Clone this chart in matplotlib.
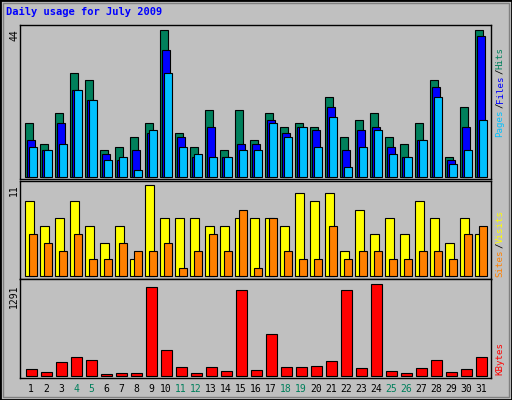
import matplotlib
matplotlib.use("Agg")
import matplotlib.pyplot as plt
from matplotlib.patches import Rectangle

days = list(range(1, 32))
weekends = [4, 5, 11, 12, 18, 19, 25, 26]
hits = [16, 10, 19, 31, 29, 8, 9, 12, 16, 44, 13, 9, 20, 8, 20, 11, 19, 15, 16, 15, 24, 12, 17, 19, 12, 10, 16, 29, 6, 21, 44]
files = [11, 8, 16, 26, 23, 7, 5, 8, 13, 38, 12, 6, 15, 6, 10, 10, 17, 13, 15, 14, 21, 8, 14, 15, 9, 6, 11, 27, 5, 15, 42]
pages = [9, 8, 10, 26, 23, 5, 6, 2, 14, 31, 9, 7, 6, 6, 8, 8, 16, 12, 15, 9, 18, 3, 9, 14, 7, 6, 11, 24, 4, 8, 17]
visits = [9, 6, 7, 9, 6, 4, 6, 2, 11, 7, 7, 7, 6, 6, 7, 7, 7, 6, 10, 9, 10, 3, 8, 5, 7, 5, 9, 7, 4, 7, 5]
sites = [5, 4, 3, 5, 2, 2, 4, 3, 3, 4, 1, 3, 5, 3, 8, 1, 7, 3, 2, 2, 6, 2, 3, 3, 2, 2, 3, 3, 2, 5, 6]
kbytes = [104, 61, 203, 273, 231, 33, 47, 47, 1249, 372, 132, 47, 132, 75, 1206, 90, 598, 132, 132, 146,
          217, 1206, 118, 1291, 75, 47, 118, 231, 61, 104, 273]

W, H = 512, 400
BG = "#c0c0c0"
GREEN, BLUE, CYAN = "#00805c", "#0000ff", "#00c0ff"
YELLOW, ORANGE, RED = "#ffff00", "#ff8000", "#ff0000"
MONO = "DejaVu Sans Mono"

fig = plt.figure(figsize=(W / 100, H / 100), dpi=100, facecolor=BG)


def px_axes(x0, y0, x1, y1):
    return fig.add_axes([x0 / W, 1 - y1 / H, (x1 - x0) / W, (y1 - y0) / H])


def style(ax, ylim):
    ax.set_facecolor(BG)
    ax.set_xlim(0.267, 31.67)
    ax.set_ylim(*ylim)
    ax.set_xticks([])
    ax.set_yticks([])
    for s in ax.spines.values():
        s.set_color("black")
        s.set_linewidth(1)


def bars(ax, vals, off, width, color):
    ax.bar([d + off for d in days], vals, width=width, align="edge",
           color=color, edgecolor="black", linewidth=0.8)


# outer frame
fig.patches.append(Rectangle((0, 0), 1, 1, transform=fig.transFigure, fill=False,
                             edgecolor="black", linewidth=2))
fig.patches.append(Rectangle((3 / W, 3 / H), 1 - 6 / W, 1 - 6 / H, transform=fig.transFigure,
                             fill=False, edgecolor="#808080", linewidth=1))

fig.text(6 / W, 1 - 15 / H, "Daily usage for July 2009", color=BLUE, fontsize=7.5,
         fontweight="bold", family=MONO)

# hits / files / pages
ax1 = px_axes(20, 25, 491, 179)
style(ax1, (-0.6, 45.4))
bars(ax1, hits, -0.4, 0.51, GREEN)
bars(ax1, files, -0.27, 0.51, BLUE)
bars(ax1, pages, -0.13, 0.51, CYAN)

# visits / sites
ax2 = px_axes(20, 181, 491, 279)
style(ax2, (-0.36, 11.43))
bars(ax2, visits, -0.4, 0.58, YELLOW)
bars(ax2, sites, -0.13, 0.51, ORANGE)

# kbytes
ax3 = px_axes(20, 279, 491, 378)
style(ax3, (-28, 1366))
bars(ax3, kbytes, -0.33, 0.71, RED)

# max labels on the left
for y, lab in [(29, "44"), (184, "11"), (284, "1291")]:
    fig.text(14 / W, 1 - y / H, lab, rotation=90, ha="center", va="top",
             fontsize=7, family=MONO)

# day labels
for d in days:
    x = 31 + 15 * (d - 1)
    fig.text(x / W, 1 - 389 / H, str(d), ha="center", va="center", fontsize=7,
             family=MONO, color=GREEN if d in weekends else "black")


def side_label(parts, y_bottom):
    # pieces of one vertical label, stacked bottom to top
    y = y_bottom
    for txt, col in parts:
        fig.text(500 / W, 1 - y / H, txt, rotation=90, ha="center", va="bottom",
                 fontsize=6.6, family=MONO, color=col)
        y -= len(txt) * 5.7


side_label([("Pages", CYAN), ("/", "black"), ("Files", BLUE), ("/", "black"), ("Hits", GREEN)], 137)
side_label([("Sites", ORANGE), ("/", "black"), ("Visits", YELLOW)], 277)
side_label([("KBytes", RED)], 375)

fig.savefig("out.png", dpi=100, facecolor=BG)
